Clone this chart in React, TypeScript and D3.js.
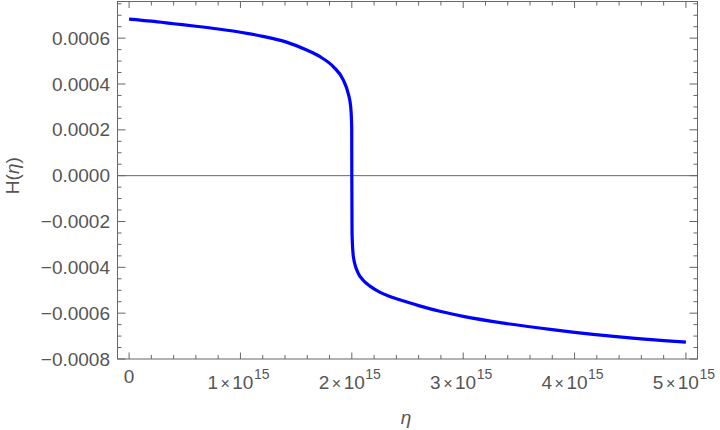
import React from 'react'
import * as d3 from 'd3'

// eta values and H(eta)
const etaValues = [
  0, 0.2e15, 0.4e15, 0.6e15, 0.8e15, 1.0e15, 1.2e15, 1.4e15, 1.6e15,
  1.715e15, 1.833e15, 1.923e15, 1.968e15, 1.99e15, 1.999e15, 2.0e15,
  2.002e15, 2.014e15, 2.058e15, 2.1e15, 2.163e15, 2.25e15, 2.342e15, 2.45e15, 2.6e15, 2.8e15,
  3.0e15, 3.4e15, 3.8e15, 4.0e15, 4.4e15, 4.8e15, 5.0e15,
]
const hValues = [
  0.000683, 0.000674, 0.000663, 0.000652, 0.00064, 0.000626, 0.000608, 0.000585, 0.000547,
  0.000519, 0.000476, 0.000418, 0.000358, 0.0003, 0.000213, 0,
  -0.000252, -0.000354, -0.000426, -0.000455, -0.000482, -0.000508, -0.000527, -0.000545, -0.000567, -0.000593,
  -0.000614, -0.000646, -0.000672, -0.0006835, -0.0007035, -0.00072, -0.000726,
]

const xTicks = [0, 1e15, 2e15, 3e15, 4e15, 5e15]
const xTickMantissa = ['0', '1', '2', '3', '4', '5']
const yTicks = [-0.0008, -0.0006, -0.0004, -0.0002, 0, 0.0002, 0.0004, 0.0006]
const yTickLabels = ['\u22120.0008', '\u22120.0006', '\u22120.0004', '\u22120.0002', '0.0000', '0.0002', '0.0004', '0.0006']

const W = 720
const H = 430
const left = 117.5
const right = 697.5
const top = 1.5
const bottom = 359

const frameColor = '#666'
const textColor = '#555'
const font = '"Liberation Sans", Arial, sans-serif'
const fs = 19

export default function App() {
  const x = d3.scaleLinear().domain([-0.104e15, 5.104e15]).range([left, right])
  const y = d3.scaleLinear().domain([-0.0008, 0.00076]).range([bottom, top])

  const pts: [number, number][] = etaValues.map((e, i) => [e, hValues[i]])
  const line = d3
    .line<[number, number]>()
    .x((d) => x(d[0]))
    .y((d) => y(d[1]))
    .curve(d3.curveMonotoneX)

  const xMinor = d3.range(0, 5.01e15, 0.2e15).filter((v) => Math.abs(v / 1e15 - Math.round(v / 1e15)) > 1e-6)
  const yMinor = d3.range(-0.0008, 0.00076, 0.00005).filter((v) => Math.abs(v / 0.0002 - Math.round(v / 0.0002)) > 1e-6)

  return (
    <svg width={W} height={H} style={{ position: 'fixed', left: 0, top: 0, background: '#fff' }} fontFamily={font}>
      {/* zero line */}
      <line x1={left} x2={right} y1={y(0)} y2={y(0)} stroke={frameColor} strokeWidth={1} />

      {/* curve */}
      <path d={line(pts) || ''} fill="none" stroke="#0000ff" strokeWidth={3.2} strokeLinejoin="round" />

      {/* frame */}
      <rect x={left} y={top} width={right - left} height={bottom - top} fill="none" stroke={frameColor} strokeWidth={1} />

      {/* x ticks, bottom and top */}
      {xTicks.map((t) => (
        <g key={'xm' + t}>
          <line x1={x(t)} x2={x(t)} y1={bottom} y2={bottom - 6.5} stroke={frameColor} />
          <line x1={x(t)} x2={x(t)} y1={top} y2={top + 6.5} stroke={frameColor} />
        </g>
      ))}
      {xMinor.map((t) => (
        <g key={'xn' + t}>
          <line x1={x(t)} x2={x(t)} y1={bottom} y2={bottom - 4} stroke={frameColor} />
          <line x1={x(t)} x2={x(t)} y1={top} y2={top + 4} stroke={frameColor} />
        </g>
      ))}

      {/* y ticks, left and right */}
      {yTicks.map((t) => (
        <g key={'ym' + t}>
          <line x1={left} x2={left + 8} y1={y(t)} y2={y(t)} stroke={frameColor} />
          <line x1={right} x2={right - 8} y1={y(t)} y2={y(t)} stroke={frameColor} />
        </g>
      ))}
      {yMinor.map((t) => (
        <g key={'yn' + t}>
          <line x1={left} x2={left + 4} y1={y(t)} y2={y(t)} stroke={frameColor} />
          <line x1={right} x2={right - 4} y1={y(t)} y2={y(t)} stroke={frameColor} />
        </g>
      ))}

      {/* y tick labels */}
      {yTicks.map((t, i) => (
        <text key={'yl' + t} x={left - 7.5} y={y(t)} dy="0.35em" textAnchor="end" fontSize={fs} fill={textColor}>
          {yTickLabels[i]}
        </text>
      ))}

      {/* x tick labels */}
      {xTicks.map((t, i) =>
        t === 0 ? (
          <text key={'xl' + t} x={x(t)} y={383.3} textAnchor="middle" fontSize={fs} fill={textColor}>
            {xTickMantissa[i]}
          </text>
        ) : (
          <text key={'xl' + t} x={x(t) - 2} y={388.8} textAnchor="middle" fontSize={fs} fill={textColor}>
            {xTickMantissa[i]}
            <tspan fontSize={16} dx={2.5}>×</tspan>
            <tspan dx={2.5}>10</tspan>
            <tspan fontSize={14} dy={-10} dx={0.5}>15</tspan>
          </text>
        )
      )}

      {/* axis labels */}
      <text x={406} y={424} textAnchor="middle" fontSize={fs} fontStyle="italic" fill={textColor}>
        η
      </text>
      <text transform={`translate(19,${y(0)}) rotate(-90)`} textAnchor="middle" fontSize={fs} fill={textColor}>
        H(<tspan fontStyle="italic">η</tspan>)
      </text>
    </svg>
  )
}
